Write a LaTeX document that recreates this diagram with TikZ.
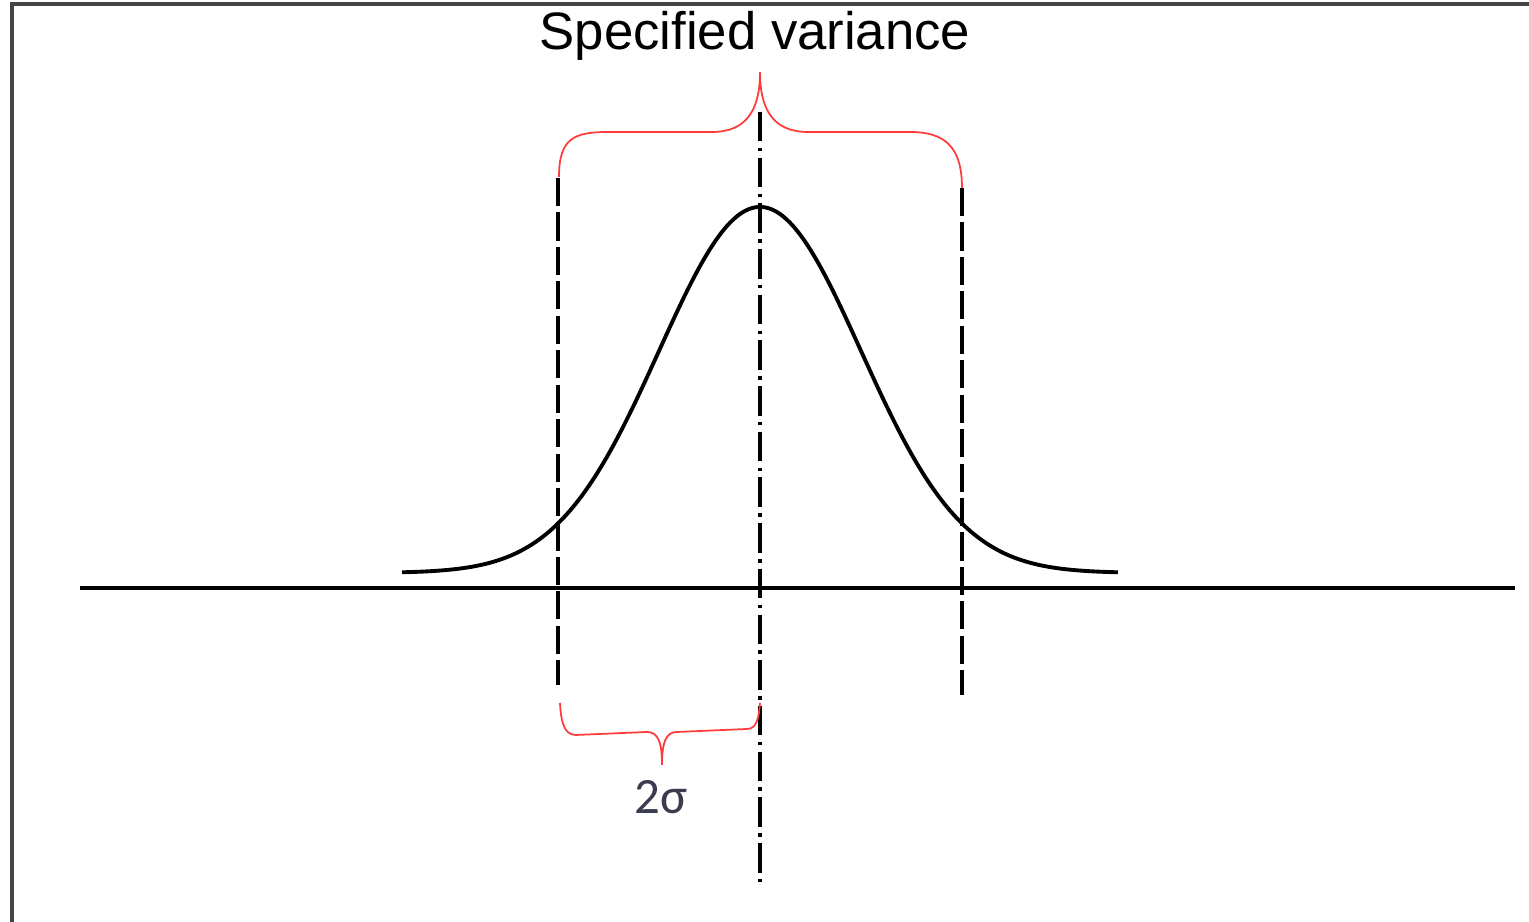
\documentclass[tikz,border=0pt]{standalone}
\usepackage{fontspec}
\setmainfont{Liberation Sans}
\newfontfamily\labelfont{Carlito}
\usepackage{xcolor}
\definecolor{framegray}{RGB}{70,70,70}
\definecolor{bracered}{RGB}{255,60,60}
\definecolor{labelslate}{RGB}{60,60,80}
\usetikzlibrary{positioning,calc}

\begin{document}
\begin{tikzpicture}
  \useasboundingbox (0,0) rectangle (15.29,9.22);
  \tikzset{
    bound/.style={dash pattern=on 8pt off 1.8pt,line width=1.1pt},
    centreline/.style={dash pattern=on 8.4pt off 1.8pt on 1pt off 1.8pt,line width=1.1pt},
    brace/.style={bracered,line width=0.5pt}
  }
  % frame (left and top only)
  \draw[framegray,line width=0.9pt] (0.12,0) -- (0.12,9.18) -- (15.29,9.18);
  % axis
  \draw[line width=0.9pt] (0.80,3.34) -- (15.15,3.34);
  % bell curve
  \draw[line width=1.1pt,domain=4.02:11.18,samples=120,smooth]
        plot (\x,{3.49+3.66*exp(-((\x-7.6)/1.01)^2/2)});
  % limits and mean
  \coordinate (lt) at (5.58,7.44);
  \coordinate (lb) at (5.58,2.37);
  \coordinate (rt) at (9.62,7.34);
  \coordinate (rb) at (9.62,2.27);
  \coordinate (mt) at (7.60,8.10);
  \coordinate (mb) at (7.60,0.34);
  \draw[bound] (lt) -- (lb);
  \draw[bound] (rt) -- (rb);
  \draw[centreline] (mt) -- (mb);
  % braces
  \draw[brace] (5.59,7.45) .. controls (5.59,7.85) and (5.75,7.90) .. (6.10,7.90)
        -- (7.12,7.90) .. controls (7.45,7.90) and (7.60,8.10) .. (7.60,8.50)
        .. controls (7.60,8.10) and (7.75,7.90) .. (8.08,7.90)
        -- (9.10,7.90) .. controls (9.45,7.90) and (9.62,7.75) .. (9.62,7.34);
  \draw[brace] (5.60,2.19) .. controls (5.61,2.00) and (5.64,1.87) .. (5.76,1.87)
        -- (6.47,1.90) .. controls (6.58,1.90) and (6.62,1.80) .. (6.62,1.57)
        .. controls (6.62,1.80) and (6.66,1.90) .. (6.77,1.90)
        -- (7.47,1.93) .. controls (7.57,1.93) and (7.59,2.05) .. (7.60,2.19);
  % labels
  \node[font=\fontsize{15}{18}\selectfont] (title) at (7.55,8.86) {Specified variance};
  \node[font=\labelfont\fontsize{14.5}{17}\selectfont,text=labelslate] (sigma) at (6.61,1.25) {2σ};
\end{tikzpicture}
\end{document}
